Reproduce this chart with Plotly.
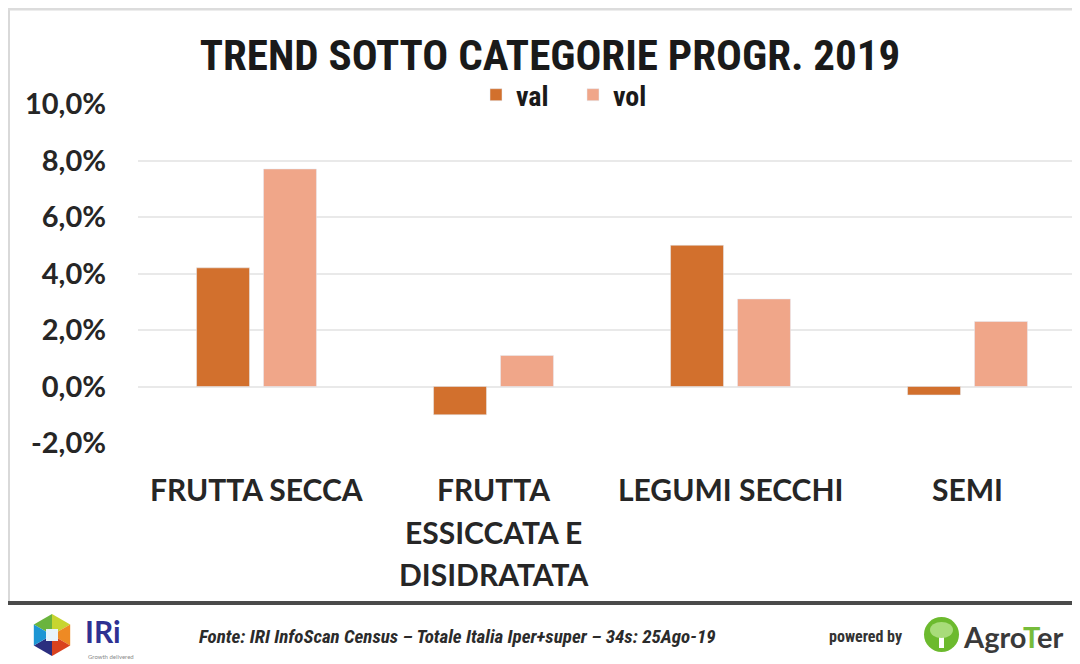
import math
import plotly.graph_objects as go

categories = ["FRUTTA SECCA", "FRUTTA<br>ESSICCATA E<br>DISIDRATATA", "LEGUMI SECCHI", "SEMI"]
val = [0.042, -0.010, 0.050, -0.003]
vol = [0.077, 0.011, 0.031, 0.023]
series_names = ["val", "vol"]
y_ticks = [-0.02, 0.0, 0.02, 0.04, 0.06, 0.08, 0.10]
y_tick_labels = ["-2,0%", "0,0%", "2,0%", "4,0%", "6,0%", "8,0%", "10,0%"]
title_text = "TREND SOTTO CATEGORIE PROGR. 2019"
source_text = "Fonte: IRI InfoScan Census – Totale Italia Iper+super – 34s: 25Ago-19"

# the page body has an 8px margin; work in screen pixels and convert
OFF = 8
W, H = 1080 - OFF, 664 - OFF
SL, ST, SB = 138, 104, 443          # plot left/top/bottom in screen pixels
L, T = SL - OFF, ST - OFF
B = H - (SB - OFF)
R = 0
PW, PH = W - L - R, H - T - B

def px(x, y):
    return ((x - OFF) - L) / PW, ((SB - OFF) - (y - OFF)) / PH

COL_VAL = "#D2702D"
COL_VOL = "#F0A689"
NARROW = "Liberation Sans Narrow, Arial Narrow, Roboto Condensed, sans-serif"
MAIN = "Lato, Open Sans, sans-serif"

fig = go.Figure()
fig.add_trace(go.Bar(name=series_names[0], x=categories, y=val, marker_color=COL_VAL))
fig.add_trace(go.Bar(name=series_names[1], x=categories, y=vol, marker_color=COL_VOL))

shapes = []
annotations = []

# category labels, one line per annotation
line_y = [489, 532, 574]
for c in categories:
    for i, part in enumerate(c.split("<br>")):
        annotations.append(dict(x=c, xref="x", y=px(0, line_y[i])[1], yref="paper",
                                text="<b>%s</b>" % part, showarrow=False, yanchor="middle",
                                font=dict(family=MAIN, size=30, color="#262626")))

# frame
for (x0, y0, x1, y1, col, w) in [(9, 9, 9, 601, "#d9d9d9", 2), (8, 9, 1080, 9, "#dcdcdc", 3),
                                  (8, 603, 1080, 603, "#4a4a4a", 4)]:
    a0, b0 = px(x0, y0); a1, b1 = px(x1, y1)
    shapes.append(dict(type="line", xref="paper", yref="paper", x0=a0, y0=b0, x1=a1, y1=b1,
                       line=dict(color=col, width=w)))

# IRi hexagon logo
cx, cy, r = 52, 635, 21
hex_cols = ["#6ab43e", "#c7d530", "#ee8a24", "#d9421f", "#2b2e7f", "#1d96d4"]
angles = [150, 90, 30, -30, -90, -150, 150]
for i in range(6):
    pts = [(cx, cy)]
    for a in (angles[i], angles[i + 1]):
        pts.append((cx + r * math.cos(math.radians(a)), cy - r * math.sin(math.radians(a))))
    p = [px(*q) for q in pts]
    path = "M %f %f L %f %f L %f %f Z" % (p[0][0], p[0][1], p[1][0], p[1][1], p[2][0], p[2][1])
    shapes.append(dict(type="path", xref="paper", yref="paper", path=path,
                       fillcolor=hex_cols[i], line=dict(width=0)))
a0, b0 = px(cx - 6, cy - 6); a1, b1 = px(cx + 6, cy + 6)
shapes.append(dict(type="rect", xref="paper", yref="paper", x0=a0, y0=b0, x1=a1, y1=b1,
                   fillcolor="#e8f4fb", line=dict(width=0)))

# AgroTer circle
a0, b0 = px(924, 617); a1, b1 = px(959, 652)
shapes.append(dict(type="circle", xref="paper", yref="paper", x0=a0, y0=b0, x1=a1, y1=b1,
                   fillcolor="#6cba2e", line=dict(width=0)))
a0, b0 = px(939, 634); a1, b1 = px(944, 648)
shapes.append(dict(type="rect", xref="paper", yref="paper", x0=a0, y0=b0, x1=a1, y1=b1,
                   fillcolor="#ffffff", line=dict(width=0)))
a0, b0 = px(930, 622); a1, b1 = px(953, 638)
shapes.append(dict(type="circle", xref="paper", yref="paper", x0=a0, y0=b0, x1=a1, y1=b1,
                   fillcolor="#a8dc7a", line=dict(width=0)))

def note(x, y, text, size, color, family=MAIN, xanchor="center", weight="normal"):
    a, b = px(x, y)
    annotations.append(dict(x=a, y=b, xref="paper", yref="paper", text=text, showarrow=False,
                            xanchor=xanchor, yanchor="middle",
                            font=dict(family=family, size=size, color=color, weight=weight)))

note(83, 631, "<b>IRi</b>", 30, "#2e3192", xanchor="left")
note(86, 656, "Growth delivered", 6, "#8a8a8a", xanchor="left")
note(457, 636, "<b><i>%s</i></b>" % source_text, 19, "#2b2b2b", family=NARROW)
note(865, 636, "<b>powered by</b>", 16, "#333333", family=NARROW)
note(961, 636, "Agro<span style='color:#76bc3a'>T</span>er", 29, "#3a3a3a",
     xanchor="left", weight="bold")

fig.update_layout(
    width=W, height=H,
    margin=dict(l=L, r=R, t=T, b=B),
    paper_bgcolor="white", plot_bgcolor="white",
    barmode="group", bargap=0.435, bargroupgap=0.209,
    title=dict(text="<b>%s</b>" % title_text, xref="container", yref="container",
               x=(550 - OFF) / W, y=1 - (55 - OFF) / H, xanchor="center", yanchor="middle",
               font=dict(family=NARROW, size=43, color="#1a1a1a")),
    legend=dict(orientation="h", x=px(476, 0)[0], y=px(0, 95)[1], xanchor="left", yanchor="middle",
                font=dict(family=NARROW, size=28, color="#1a1a1a", weight="bold"),
                bgcolor="rgba(0,0,0,0)", itemwidth=30, traceorder="normal",
                entrywidth=52, entrywidthmode="pixels"),
    xaxis=dict(type="category", range=[-0.5, -0.5 + PW / 237.0], showticklabels=False,
               showgrid=False, zeroline=False, showline=False, ticks=""),
    yaxis=dict(range=[-0.02, 0.10], tickvals=y_ticks, ticktext=y_tick_labels,
               showgrid=True, gridcolor="#e9e9e9", gridwidth=2, zeroline=False,
               showline=False, ticks="", ticklabelstandoff=31,
               tickfont=dict(family=MAIN, size=29, color="#262626", weight="bold")),
    shapes=shapes, annotations=annotations,
    font=dict(family=MAIN),
)

fig.write_html("out.html")
